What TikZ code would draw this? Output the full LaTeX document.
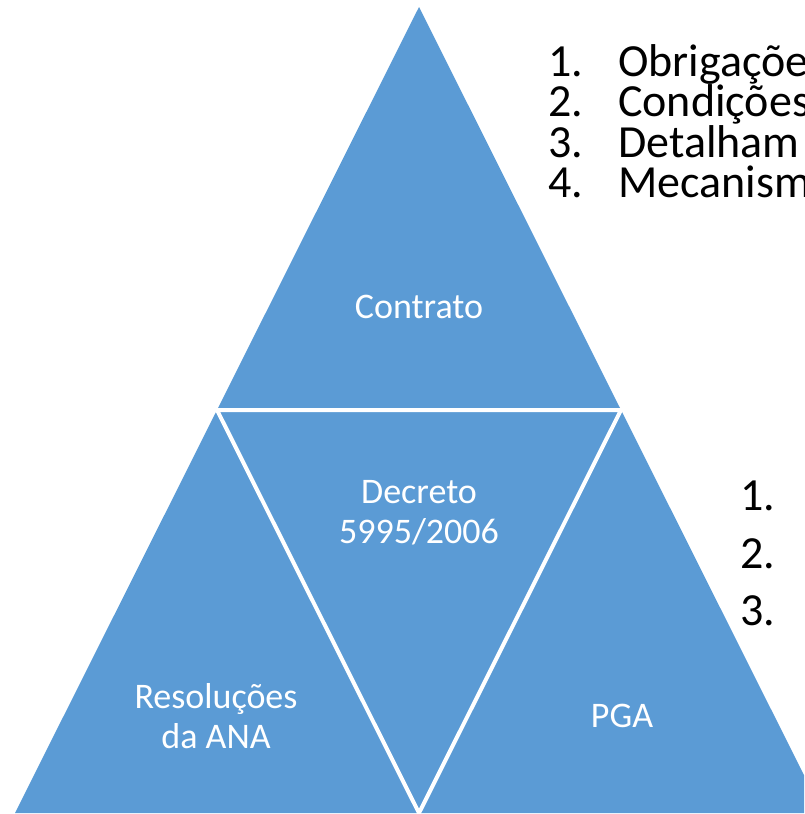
\documentclass[tikz,border=0pt]{standalone}
\usepackage{fontspec}
\setmainfont{Carlito}
\usepackage{xcolor}
\definecolor{TriBlue}{HTML}{5B9BD5}
\usepackage{tikz}
\usetikzlibrary{positioning, calc}
\tikzset{
  trifill/.style={fill=TriBlue},
  divline/.style={draw=white, line width=4pt, line join=miter},
  trilabel/.style={text=white, font=\fontsize{36}{40}\selectfont, align=center, inner sep=0pt},
  listnum/.style={font=\fontsize{46}{50}\selectfont, inner sep=0pt, anchor=base west},
  listtext/.style={font=\fontsize{46}{50}\selectfont, inner sep=0pt, anchor=base west}
}

\begin{document}
\begin{tikzpicture}[x=1pt, y=-1pt]
  \useasboundingbox (0,0) rectangle (804,814);
  \clip (0,0) rectangle (804,814);

  % Corners
  \coordinate (apex) at (419,7);
  \coordinate (ml) at (217,410);
  \coordinate (mr) at (621,410);
  \coordinate (bl) at (15,813);
  \coordinate (bm) at (419,813);
  \coordinate (br) at (823,813);

  % Triangles
  \fill[trifill] (apex) -- (bl) -- (br) -- cycle;
  \draw[divline] (ml) -- (mr) -- (bm) -- cycle;

  % Labels
  \node[trilabel, anchor=base] (contrato) at (419,318) {Contrato};
  \node[trilabel] (decreto) at (419,513) {Decreto\\5995/2006};
  \node[trilabel] (resol) at (216,716) {Resoluções\\da ANA};
  \node[trilabel, anchor=base] (pga) at (622,727) {PGA};

  % Upper list
  \foreach \i/\txt/\y in {1/Obrigações/76, 2/Condições/116, 3/Detalham/157, 4/Mecanism/197} {
    \node[listnum] (n\i) at (548,\y) {\i.};
    \node[listtext] (t\i) at (618,\y) {\txt};
  }

  % Lower list
  \foreach \i/\y in {1/510, 2/568, 3/625} {
    \node[listnum] (m\i) at (740,\y) {\i.};
  }
\end{tikzpicture}
\end{document}
